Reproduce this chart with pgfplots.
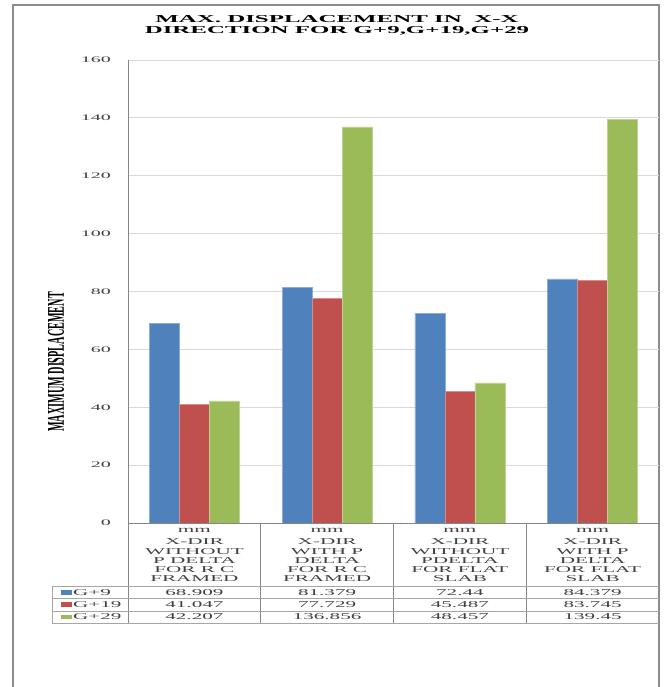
\documentclass[border=0pt]{standalone}
\usepackage{fontspec}
\setmainfont{Liberation Serif}
\newfontfamily\wideserif[FakeStretch=2.35]{Liberation Serif}
\usepackage{graphicx}
\usepackage{pgfplots}
\pgfplotsset{compat=1.18}

\definecolor{serA}{HTML}{4F81BD}
\definecolor{serB}{HTML}{C0504D}
\definecolor{serC}{HTML}{9BBB59}
\definecolor{gridc}{HTML}{D9D9D9}
\definecolor{linec}{HTML}{868686}
\definecolor{tablec}{HTML}{A6A6A6}
\definecolor{framec}{HTML}{8C8C8C}
\definecolor{txt}{HTML}{404040}

% one category header: x centre, then five wrapped lines
\newcommand{\catlabel}[6]{%
  \node[anchor=base, inner sep=0pt] at (#1,154) {mm};
  \node[anchor=base, inner sep=0pt] at (#1,142) {#2};
  \node[anchor=base, inner sep=0pt] at (#1,132.8) {#3};
  \node[anchor=base, inner sep=0pt] at (#1,123.6) {#4};
  \node[anchor=base, inner sep=0pt] at (#1,114.4) {#5};
  \node[anchor=base, inner sep=0pt] at (#1,105.2) {#6};
}

\begin{document}
\begin{tikzpicture}[x=1pt,y=1pt]
\useasboundingbox (0,0) rectangle (664,687);

% chart frame
\draw[framec, line width=2pt] (13,0) -- (13,682) -- (659,682) -- (659,0);

% title
\node[font=\wideserif\bfseries\fontsize{10.6}{11}\selectfont, inner sep=0pt] at (337,667.5) {MAX. DISPLACEMENT IN\ \ X-X};
\node[font=\wideserif\bfseries\fontsize{10.6}{11}\selectfont, inner sep=0pt] at (337,656.5) {DIRECTION FOR G+9,G+19,G+29};

% vertical axis title
\node[rotate=90, inner sep=0pt] at (56,325) {\scalebox{1}[2.35]{\bfseries\fontsize{10.2}{11}\selectfont MAXIMUM DISPLACEMENT}};

\begin{axis}[
  at={(128pt,164pt)}, anchor=south west,
  scale only axis, width=531pt, height=463pt,
  xmin=-0.5, xmax=3.5, ymin=0, ymax=160,
  ytick={0,20,...,160}, xtick=\empty,
  ymajorgrids, grid style={gridc, line width=0.9pt},
  axis line style={draw=none},
  major tick length=0pt,
  /pgf/number format/assume math mode=true,
  yticklabel style={font=\wideserif\fontsize{8.5}{10}\selectfont, text=txt,
    anchor=east, inner sep=0pt, xshift=-17pt},
  ybar=0pt, bar width=30pt,
  clip=false,
]
\addplot[fill=serA, draw=serA!65!white, line width=0.5pt]
  coordinates {(0,68.909) (1,81.379) (2,72.44) (3,84.379)};
\addplot[fill=serB, draw=serB!65!white, line width=0.5pt]
  coordinates {(0,41.047) (1,77.729) (2,45.487) (3,83.745)};
\addplot[fill=serC, draw=serC!65!white, line width=0.5pt]
  coordinates {(0,42.207) (1,136.856) (2,48.457) (3,139.45)};
\end{axis}

% axis lines and data table grid
\draw[linec, line width=0.9pt] (128,627) -- (128,64);
\draw[linec, line width=0.9pt] (128,164) -- (659,164);
\foreach \xs in {260.75,393.5,526.25}
  \draw[linec, line width=0.9pt] (\xs,164) -- (\xs,64);
\foreach \ys in {101,88.5,76,64}
  \draw[tablec, line width=0.8pt] (52,\ys) -- (659,\ys);
\draw[tablec, line width=0.8pt] (52,101) -- (52,64);

% category headers
\begin{scope}[font=\wideserif\fontsize{9}{9.2}\selectfont, text=txt]
\catlabel{194.4}{X-DIR}{WITHOUT}{P DELTA}{FOR R C}{FRAMED}
\catlabel{327.1}{X-DIR}{WITH P}{DELTA}{FOR R C}{FRAMED}
\catlabel{459.9}{X-DIR}{WITHOUT}{PDELTA}{FOR FLAT}{SLAB}
\catlabel{592.6}{X-DIR}{WITH P}{DELTA}{FOR FLAT}{SLAB}

% legend keys
\fill[serA] (61,92.3) rectangle (72,97.2);
\fill[serB] (61,79.8) rectangle (72,84.7);
\fill[serC] (61,67.5) rectangle (72,72.4);
\node[anchor=base west, inner sep=0pt] at (73,91.75) {G+9};
\node[anchor=base west, inner sep=0pt] at (73,79.25) {G+19};
\node[anchor=base west, inner sep=0pt] at (73,67) {G+29};

% table values
\foreach \xc/\va/\vb/\vc in {194.4/68.909/41.047/42.207,
                             327.1/81.379/77.729/136.856,
                             459.9/72.44/45.487/48.457,
                             592.6/84.379/83.745/139.45} {
  \node[anchor=base, inner sep=0pt] at (\xc,91.75) {\va};
  \node[anchor=base, inner sep=0pt] at (\xc,79.25) {\vb};
  \node[anchor=base, inner sep=0pt] at (\xc,67) {\vc};
}
\end{scope}
\end{tikzpicture}
\end{document}
